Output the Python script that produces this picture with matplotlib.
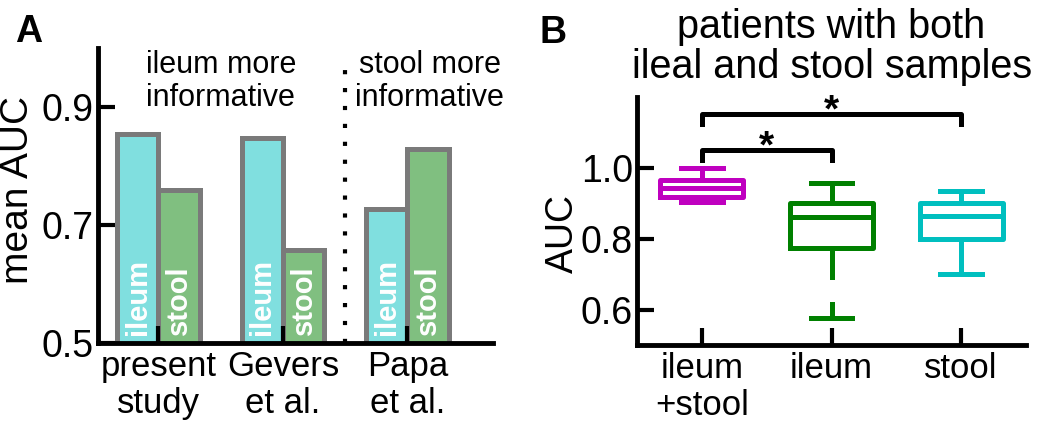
import matplotlib
matplotlib.use("Agg")
import matplotlib.pyplot as plt

plt.rcParams['font.family'] = ['Liberation Sans', 'DejaVu Sans']

# panel A: mean AUC per study
studies = ['present\nstudy', 'Gevers\net al.', 'Papa\net al.']
ileum_auc = [0.854, 0.848, 0.727]
stool_auc = [0.760, 0.657, 0.829]

# panel B: box stats per sample type
box_labels = ['ileum\n+stool', 'ileum', 'stool']
box_q1 = [0.917, 0.774, 0.800]
box_med = [0.943, 0.860, 0.863]
box_q3 = [0.966, 0.900, 0.900]
box_lo = [0.903, 0.691, 0.700]
box_hi = [1.000, 0.957, 0.934]
ileum_tail = [0.617, 0.577]  # detached lower whisker piece of the ileum box
box_colors = ['#BF00BF', '#008000', '#00BFBF']

ileum_face = '#80DFDF'
stool_face = '#80BF80'
edge_gray = '#7A7A7A'

fig = plt.figure(figsize=(10.5, 4.43), dpi=100)
axA = fig.add_axes([0.0933, 0.2257, 0.3762, 0.6659])
axB = fig.add_axes([0.6067, 0.2212, 0.3705, 0.5598])

for ax in (axA, axB):
    ax.spines['top'].set_visible(False)
    ax.spines['right'].set_visible(False)
    ax.spines['left'].set_linewidth(3.5)
    ax.spines['bottom'].set_linewidth(3.5)
    ax.tick_params(direction='in', length=12, width=3, colors='black')
    ax.tick_params(axis='y', labelsize=27, pad=3)
    ax.tick_params(axis='x', labelsize=25, pad=5)

# ---- panel A ----
x = range(len(studies))
w = 0.333
for i in x:
    axA.bar(i - w / 2, ileum_auc[i], w, color=ileum_face, edgecolor=edge_gray, linewidth=3.6)
    axA.bar(i + w / 2, stool_auc[i], w, color=stool_face, edgecolor=edge_gray, linewidth=3.6)
    axA.text(i - w / 2, 0.513, 'ileum', rotation=90, ha='center', va='bottom',
             color='white', fontsize=21, fontweight='bold')
    axA.text(i + w / 2, 0.513, 'stool', rotation=90, ha='center', va='bottom',
             color='white', fontsize=21, fontweight='bold')

axA.set_xlim(-0.486, 2.687)
axA.set_ylim(0.5, 1.0)
axA.set_yticks([0.5, 0.7, 0.9])
axA.set_yticklabels(['0.5', '0.7', '0.9'])
axA.set_xticks(list(x))
axA.set_xticklabels(studies, linespacing=1.15)
axA.set_ylabel('mean AUC', fontsize=28)
axA.yaxis.set_label_coords(-0.158, 0.52)

axA.plot([1.5, 1.5], [0.5, 0.985], color='black', linewidth=3,
         linestyle=(0, (1, 3.3)), dash_capstyle='butt')
axA.text(0.5, 0.943, 'ileum more\ninformative', ha='center', va='center',
         fontsize=22, linespacing=1.12)
axA.text(2.18, 0.943, 'stool more\ninformative', ha='center', va='center',
         fontsize=22, linespacing=1.12)

# ---- panel B ----
stats = []
for i in range(3):
    stats.append(dict(med=box_med[i], q1=box_q1[i], q3=box_q3[i],
                      whislo=box_lo[i], whishi=box_hi[i], fliers=[]))
bp = axB.bxp(stats, positions=[1, 2, 3], widths=0.64, showfliers=False)
for i, c in enumerate(box_colors):
    bp['boxes'][i].set(color=c, linewidth=3.6)
    bp['medians'][i].set(color=c, linewidth=3.6)
    for k in (2 * i, 2 * i + 1):
        bp['whiskers'][k].set(color=c, linewidth=3.6)
        bp['caps'][k].set(color=c, linewidth=3.6)
# ileum: lower cap sits apart from the whisker
bp['caps'][2].set_visible(False)
axB.plot([2, 2], ileum_tail, color=box_colors[1], linewidth=3.6)
axB.plot([1.84, 2.16], [ileum_tail[1]] * 2, color=box_colors[1], linewidth=3.6)

# significance brackets
axB.plot([1, 1, 2, 2], [1.023, 1.051, 1.051, 1.023], color='black', linewidth=3.6)
axB.plot([1, 1, 3, 3], [1.123, 1.151, 1.151, 1.123], color='black', linewidth=3.6)
axB.text(1.5, 1.03, '*', ha='center', va='baseline', fontsize=28, fontweight='bold')
axB.text(2.0, 1.13, '*', ha='center', va='baseline', fontsize=28, fontweight='bold')

axB.set_xlim(0.5, 3.5)
axB.set_ylim(0.5, 1.2)
axB.set_yticks([0.6, 0.8, 1.0])
axB.set_yticklabels(['0.6', '0.8', '1.0'])
axB.set_xticks([1, 2, 3])
axB.set_xticklabels(box_labels, linespacing=1.15)
axB.set_ylabel('AUC', fontsize=27)
axB.yaxis.set_label_coords(-0.145, 0.45)

fig.text(0.792, 1 - 47 / 443, 'patients with both\nileal and stool samples',
         ha='center', va='center', fontsize=28.5, linespacing=1.08)

fig.text(0.014, 1 - 32 / 443, 'A', fontsize=27, fontweight='bold', va='center')
fig.text(0.514, 1 - 33 / 443, 'B', fontsize=27, fontweight='bold', va='center')

fig.savefig('out.png', dpi=100)
